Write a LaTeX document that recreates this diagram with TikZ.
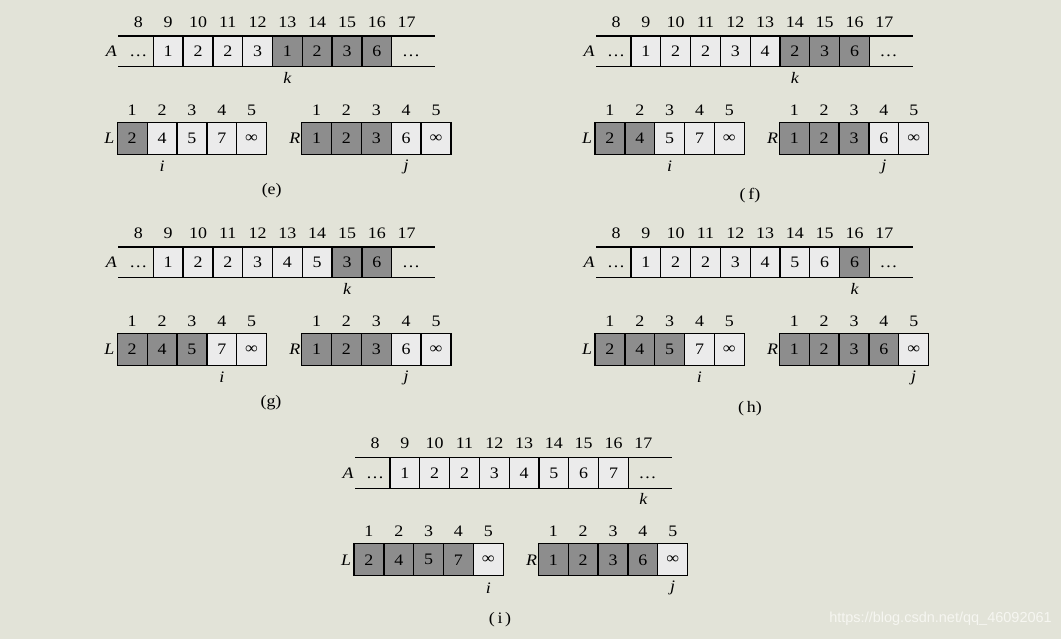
\documentclass[tikz,border=0pt]{standalone}
\usepackage{fontspec}
\setmainfont{Liberation Serif}[FakeStretch=1.12]
\newfontfamily\wmfont{Liberation Sans}
\definecolor{bg}{RGB}{226,227,216}
\definecolor{celllight}{RGB}{235,235,235}
\definecolor{celldark}{RGB}{141,141,141}
\definecolor{wm}{RGB}{246,246,241}
\newcommand\infsym{\char"221E\relax}
\tikzset{
  txt/.style={inner sep=0pt, font=\fontsize{16}{19}\selectfont},
  cell/.style={txt, draw=black, line width=1.3pt, fill=celldark!#1!celllight, minimum width=29.85pt, minimum height=31pt},
  acell/.style={cell=#1},
  lcell/.style={cell=#1, minimum height=32pt},
  rail/.style={line width=1.4pt},
  idx/.style={txt, anchor=base},
  ptr/.style={txt, font=\fontsize{16}{19}\selectfont\itshape},
  arrname/.style={txt, font=\fontsize{16}{19}\selectfont\itshape},
  caption/.style={txt},
  dots/.style={txt, anchor=base},
}
% #1 prefix, #2 light count in A, #3 A values, #4 k index,
% #5 dark count in L, #6 i index, #7 dark count in R, #8 j index
\newcommand\mergepanel[8]{%
  \foreach \v [count=\c from 9] in {#3}{%
    \pgfmathtruncatemacro\dk{(\c-8>#2)*100}%
    \node[acell=\dk] (#1A\c) at ({153.3+(\c-8.5)*29.8},51.35) {\v};
  }
  \coordinate (#1AL) at (118.3,36);
  \coordinate (#1AR) at (435,36);
  \coordinate (#1BL) at (118.3,66.7);
  \coordinate (#1BR) at (435,66.7);
  \draw[rail] (#1AL) -- (#1AR);
  \draw[rail] (#1BL) -- (#1BR);
  \node[dots] (#1dl) at (138.4,56.6) {…};
  \node[dots] (#1dr) at (411,56.6) {…};
  \node[arrname, anchor=east] (#1nA) at (117,51.35) {A};
  \foreach \n in {8,...,17}{%
    \node[idx] (#1Ai\n) at ({153.3+(\n-8.5)*29.8},27.3) {\n};
  }
  \node[ptr] (#1k) at ({153.3+(#4-8.5)*29.8},77.5) {k};
  % L
  \foreach \v [count=\c] in {2,4,5,7,\infsym}{%
    \pgfmathtruncatemacro\dk{(\c<=#5)*100}%
    \node[lcell=\dk] (#1L\c) at ({117.3+(\c-0.5)*29.85},138.3) {\v};
  }
  \foreach \c in {1,...,5}{%
    \node[idx] (#1Li\c) at ({117.3+(\c-0.5)*29.85},115.3) {\c};
    \node[idx] (#1Ri\c) at ({301.7+(\c-0.5)*29.85},115.3) {\c};
  }
  \node[arrname, anchor=east] (#1nL) at (114.5,138.3) {L};
  \node[ptr] (#1i) at ({117.3+(#6-0.5)*29.85},166.5) {i};
  % R
  \foreach \v [count=\c] in {1,2,3,6,\infsym}{%
    \pgfmathtruncatemacro\dk{(\c<=#7)*100}%
    \node[lcell=\dk] (#1R\c) at ({301.7+(\c-0.5)*29.85},138.3) {\v};
  }
  \node[arrname, anchor=east] (#1nR) at (300.5,138.3) {R};
  \node[ptr] (#1j) at ({301.7+(#8-0.5)*29.85},166.5) {j};
}
\begin{document}
\begin{tikzpicture}[x=1pt,y=-1pt]
  \fill[bg] (0,0) rectangle (1061,639);
  \useasboundingbox (0,0) rectangle (1061,639);
  % (e)
  \mergepanel{e}{4}{1,2,2,3,1,2,3,6}{13}{1}{2}{3}{4}
  \node[caption] (cape) at (271.7,190.5) {(e)};
  % (f)
  \begin{scope}[shift={(477.7,0)}]
    \mergepanel{f}{5}{1,2,2,3,4,2,3,6}{14}{2}{3}{3}{4}
  \end{scope}
  \node[caption] (capf) at (750,195.5) {(\,f)};
  % (g)
  \begin{scope}[shift={(0,211)}]
    \mergepanel{g}{6}{1,2,2,3,4,5,3,6}{15}{3}{4}{3}{4}
  \end{scope}
  \node[caption] (capg) at (271,403) {(g)};
  % (h)
  \begin{scope}[shift={(477.7,211)}]
    \mergepanel{h}{7}{1,2,2,3,4,5,6,6}{16}{3}{4}{4}{5}
  \end{scope}
  \node[caption] (caph) at (750,408.5) {(\,h)};
  % (i)
  \begin{scope}[shift={(236.7,421.5)}]
    \mergepanel{i}{8}{1,2,2,3,4,5,6,7}{17}{4}{5}{4}{5}
  \end{scope}
  \node[caption] (capi) at (500,619.5) {(\,i\,)};
  % watermark
  \node[inner sep=0pt, anchor=east, text=wm, font=\wmfont\fontsize{14.5}{16}\selectfont] (wmark) at (1052,619) {https://blog.csdn.net/qq\_46092061};
\end{tikzpicture}
\end{document}
